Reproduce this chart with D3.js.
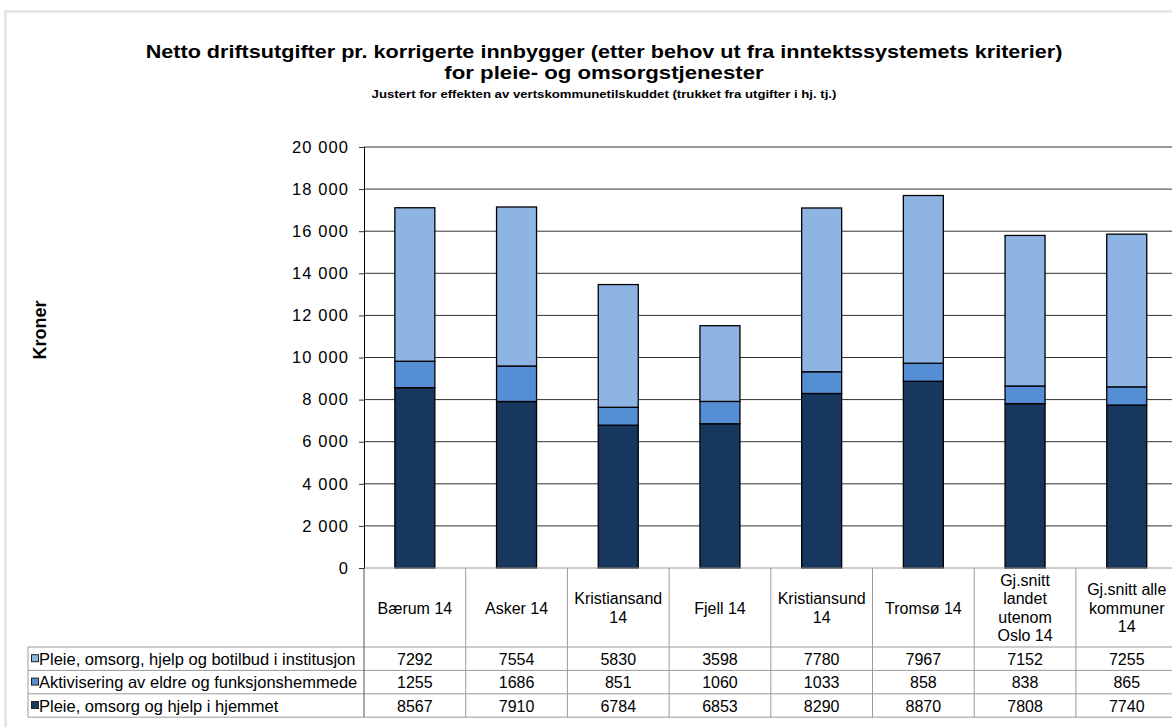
<!DOCTYPE html>
<html>
<head>
<meta charset="utf-8">
<script src="https://cdn.jsdelivr.net/npm/d3@7"></script>
<style>
    body { margin: 0; background: #fff; }
    svg { display: block; font-family: Arial, "Liberation Sans", sans-serif; }
</style>
</head>
<body>
<div id="chart"></div>
<script>

// categories (header cells, one array of lines per column)
let categories = [
    ['Bærum 14'],
    ['Asker 14'],
    ['Kristiansand', '14'],
    ['Fjell 14'],
    ['Kristiansund', '14'],
    ['Tromsø 14'],
    ['Gj.snitt', 'landet', 'utenom', 'Oslo 14'],
    ['Gj.snitt alle', 'kommuner', '14']
];

// series, bottom to top
let seriesNames = [
    'Pleie, omsorg og hjelp i hjemmet',
    'Aktivisering av eldre og funksjonshemmede',
    'Pleie, omsorg, hjelp og botilbud i institusjon'
];
let hjemmet = [8567, 7910, 6784, 6853, 8290, 8870, 7808, 7740];
let aktivisering = [1255, 1686, 851, 1060, 1033, 858, 838, 865];
let institusjon = [7292, 7554, 5830, 3598, 7780, 7967, 7152, 7255];

let yTicks = [0, 2000, 4000, 6000, 8000, 10000, 12000, 14000, 16000, 18000, 20000];

let colors = ['#17375e', '#558ed5', '#8eb4e3'];

let width = 1172, height = 727;

let svg = d3.select('#chart').append('svg')
    .attr('width', width)
    .attr('height', height);

// chart frame (runs off the right and bottom edge)
svg.append('rect')
    .attr('x', 5.5).attr('y', 11.5)
    .attr('width', 1300).attr('height', 800)
    .attr('fill', 'none')
    .attr('stroke', '#e3e3e3')
    .attr('stroke-width', 2.5);

// titles (the original text is a bit stretched sideways)
let titleX = 604, stretch = 1.2;
function titleLine(txt, yy, size) {
    svg.append('text')
        .attr('transform', `translate(${titleX},${yy}) scale(${stretch},1)`)
        .attr('text-anchor', 'middle')
        .style('font-size', size).style('font-weight', 'bold')
        .text(txt);
}
titleLine('Netto driftsutgifter pr. korrigerte innbygger (etter behov ut fra inntektssystemets kriterier)', 58, '18px');
titleLine('for pleie- og omsorgstjenester', 79, '18.5px');
titleLine('Justert for effekten av vertskommunetilskuddet (trukket fra utgifter i hj. tj.)', 97.5, '11px');

// scales
let plotLeft = 364, colW = 101.7;
let x = d3.scaleBand()
    .domain(d3.range(categories.length))
    .range([plotLeft, plotLeft + colW * categories.length])
    .paddingInner(0).paddingOuter(0);

let y = d3.scaleLinear()
    .domain([0, 20000])
    .range([568, 147]);

// gridlines
svg.append('g').selectAll('line')
    .data(yTicks.slice(1))
    .enter().append('line')
    .attr('x1', plotLeft).attr('x2', width + 20)
    .attr('y1', d => y(d)).attr('y2', d => y(d))
    .attr('stroke', '#333')
    .attr('stroke-width', 1);

// y axis
let locale = d3.formatLocale({decimal: ',', thousands: '\u00a0', grouping: [3], currency: ['', '']});
let yAxis = d3.axisLeft(y)
    .tickValues(yTicks)
    .tickFormat(locale.format(',d'))
    .tickSize(5)
    .tickPadding(10);

let yAxisG = svg.append('g')
    .attr('transform', `translate(${plotLeft},0)`)
    .call(yAxis);
yAxisG.select('.domain').attr('stroke', '#000');
yAxisG.selectAll('.tick line').attr('stroke', '#333');
yAxisG.selectAll('.tick text')
    .style('font-size', '16.5px')
    .style('letter-spacing', '1.1px')
    .attr('fill', '#000')
    .attr('font-family', 'Arial, "Liberation Sans", sans-serif');

svg.append('text')
    .attr('transform', 'translate(46,330) rotate(-90)')
    .attr('text-anchor', 'middle')
    .style('font-size', '18px').style('font-weight', 'bold')
    .text('Kroner');

// stacked bars
let rows = categories.map((c, i) => ({
    i: i,
    hjemmet: hjemmet[i],
    aktivisering: aktivisering[i],
    institusjon: institusjon[i]
}));
let stack = d3.stack().keys(['hjemmet', 'aktivisering', 'institusjon']);
let stacked = stack(rows);

let barW = 40;
svg.append('g').selectAll('g')
    .data(stacked)
    .enter().append('g')
    .attr('fill', (d, i) => colors[i])
    .selectAll('rect')
    .data(d => d)
    .enter().append('rect')
    .attr('x', d => x(d.data.i) + x.bandwidth() / 2 - barW / 2)
    .attr('width', barW)
    .attr('y', d => y(d[1]))
    .attr('height', d => y(d[0]) - y(d[1]))
    .attr('stroke', '#000')
    .attr('stroke-width', 1.3);

// data table
let tableTop = 568, headerBottom = 647, rowH = 23.4, tableLeft = 28;
let tableRight = x.range()[1];
let tableColor = '#9a9a9a';
let tableRows = [institusjon, aktivisering, hjemmet];
let tableNames = [seriesNames[2], seriesNames[1], seriesNames[0]];
let tableColors = [colors[2], colors[1], colors[0]];

let table = svg.append('g');

// horizontal lines
table.append('line')
    .attr('x1', plotLeft).attr('x2', tableRight)
    .attr('y1', tableTop).attr('y2', tableTop)
    .attr('stroke', tableColor);
d3.range(tableRows.length + 1).forEach(r => {
    table.append('line')
        .attr('x1', tableLeft).attr('x2', tableRight)
        .attr('y1', headerBottom + r * rowH).attr('y2', headerBottom + r * rowH)
        .attr('stroke', tableColor);
});

// vertical lines
table.append('line')
    .attr('x1', tableLeft).attr('x2', tableLeft)
    .attr('y1', headerBottom).attr('y2', headerBottom + tableRows.length * rowH)
    .attr('stroke', tableColor);
d3.range(categories.length + 1).forEach(c => {
    let xx = plotLeft + c * colW;
    table.append('line')
        .attr('x1', xx).attr('x2', xx)
        .attr('y1', tableTop).attr('y2', headerBottom + tableRows.length * rowH)
        .attr('stroke', c === 0 ? '#555' : tableColor);
});

// header labels
let lineH = 18.5;
categories.forEach((lines, i) => {
    let cy = (tableTop + headerBottom) / 2;
    let t = table.append('text')
        .attr('text-anchor', 'middle')
        .style('font-size', '16px');
    lines.forEach((ln, k) => {
        t.append('tspan')
            .attr('x', x(i) + x.bandwidth() / 2)
            .attr('y', cy + (k - (lines.length - 1) / 2) * lineH + 6)
            .text(ln);
    });
});

// series rows
tableRows.forEach((vals, r) => {
    let cy = headerBottom + r * rowH + rowH / 2;
    table.append('rect')
        .attr('x', 31.5).attr('y', cy - 4)
        .attr('width', 7).attr('height', 7)
        .attr('fill', tableColors[r])
        .attr('stroke', '#222').attr('stroke-width', 1);
    table.append('text')
        .attr('x', 39).attr('y', cy + 6)
        .style('font-size', '16.5px')
        .text(tableNames[r]);
    vals.forEach((v, i) => {
        table.append('text')
            .attr('x', x(i) + x.bandwidth() / 2)
            .attr('y', cy + 6)
            .attr('text-anchor', 'middle')
            .style('font-size', '16px')
            .text(v);
    });
});

</script>
</body>
</html>
